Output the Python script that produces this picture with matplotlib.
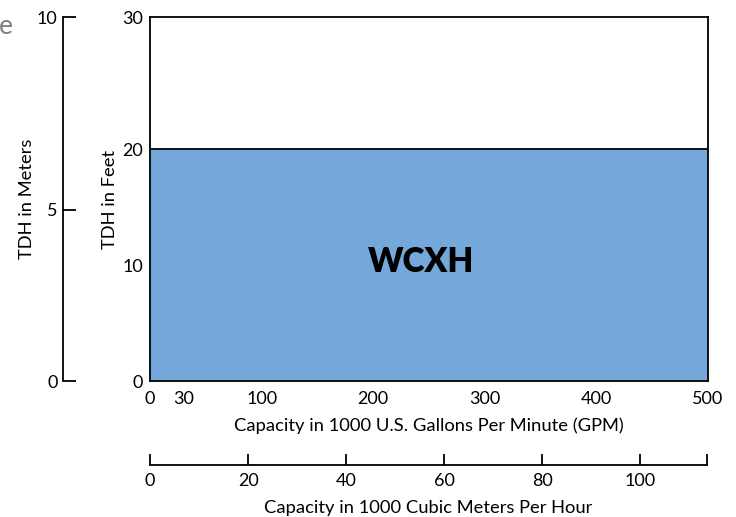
import matplotlib.pyplot as plt

# pump coverage region (GPM x 1000, feet)
region_name = 'WCXH'
region_gpm = [0, 500]
region_feet = 20

gpm_ticks = [0, 30, 100, 200, 300, 400, 500]
# the printed scale is stretched at the top: "30" sits on the frame edge
feet_top = 31.4
feet_tick_pos = [0, 10, 20, feet_top]
feet_labels = ['0', '10', '20', '30']
meter_top = 10.64
meter_tick_pos = [0, 5, meter_top]
meter_labels = ['0', '5', '10']
cmh_ticks = [0, 20, 40, 60, 80, 100]
cmh_max = 113.56

plt.rcParams['font.family'] = ['Lato', 'DejaVu Sans']
blue = '#74a8da'

fig = plt.figure(figsize=(7.36, 5.17), dpi=100)
W, H = 736, 517

def box(x0, y0, x1, y1):
    return [x0 / W, 1 - y1 / H, (x1 - x0) / W, (y1 - y0) / H]

# main chart
ax = fig.add_axes(box(150, 17, 708, 381))
ax.fill_between(region_gpm, 0, region_feet, color=blue, linewidth=0)
ax.plot(region_gpm, [region_feet, region_feet], color='black', lw=1.3)
ax.set_xlim(0, 500)
ax.set_ylim(0, feet_top)
ax.set_xticks(gpm_ticks)
ax.set_yticks(feet_tick_pos)
ax.set_yticklabels(feet_labels)
ax.tick_params(axis='x', length=0, labelsize=13, pad=7)
ax.tick_params(axis='y', length=0, labelsize=13, pad=5)
for s in ax.spines.values():
    s.set_linewidth(1.3)
ax.set_xlabel('Capacity in 1000 U.S. Gallons Per Minute (GPM)', fontsize=13.2, labelpad=8)
ax.set_ylabel('TDH in Feet', fontsize=13.2, labelpad=3)
ax.text(243, 10.3, region_name, ha='center', va='center', fontsize=24, fontweight='heavy')

# meters axis
axm = fig.add_axes(box(63, 17, 64, 381))
axm.set_ylim(0, meter_top)
axm.set_yticks(meter_tick_pos)
axm.set_yticklabels(meter_labels)
axm.set_xticks([])
for k in ['top', 'right', 'bottom']:
    axm.spines[k].set_visible(False)
axm.spines['left'].set_linewidth(1.3)
axm.tick_params(axis='y', direction='in', length=9.5, width=1.3, labelsize=13, pad=4)
axm.patch.set_alpha(0)
axm.set_ylabel('TDH in Meters', fontsize=13.2, labelpad=1)

# cubic meters axis
axc = fig.add_axes(box(150, 440, 707, 465))
axc.set_xlim(0, cmh_max)
axc.set_xticks(cmh_ticks + [cmh_max])
axc.set_xticklabels([str(t) for t in cmh_ticks] + [''])
axc.set_yticks([])
for k in ['top', 'right', 'left']:
    axc.spines[k].set_visible(False)
axc.spines['bottom'].set_linewidth(1.3)
axc.tick_params(axis='x', direction='in', length=8, width=1.3, labelsize=13, pad=6)
axc.patch.set_alpha(0)
axc.set_xlabel('Capacity in 1000 Cubic Meters Per Hour', fontsize=13.2, labelpad=8)

fig.text(13 / W, 1 - 26 / H, 'e', ha='right', va='center', fontsize=19, color='#808080')

fig.savefig('out.png', dpi=100)
